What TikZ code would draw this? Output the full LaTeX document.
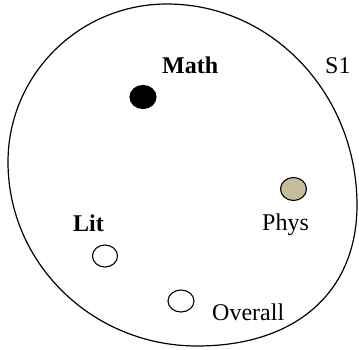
\documentclass[tikz,border=0pt]{standalone}
\usepackage{fontspec}
\setmainfont{Liberation Serif}
\usetikzlibrary{shapes.geometric,positioning}

\tikzset{
  subj/.style={draw, ellipse, line width=1.1pt, inner sep=0pt,
    minimum width=26pt, minimum height=23pt},
  lab/.style={anchor=base west, inner sep=0pt, font=\fontsize{24}{28}\selectfont}
}

\begin{document}
\begin{tikzpicture}[x=1pt, y=-1pt]
  \useasboundingbox (0,0) rectangle (359,349);

  % 外轮廓 S1
  \draw[line width=1.2pt] (167,4) .. controls (272,4) and (357,94) .. (357,205)
    .. controls (357,292) and (296,346) .. (197,346)
    .. controls (93,346) and (8,264) .. (8,162)
    .. controls (8,75) and (79,4) .. cycle;
  \node[lab] (s1) at (325,73) {S1};

  % 科目点
  \node[subj, fill=black] (math) at (143,97) {};
  \node[subj, fill={rgb,255:red,196;green,189;blue,155}] (phys) at (293.5,189) {};
  \node[subj, fill=white, minimum width=25pt, minimum height=22pt] (lit) at (105,256) {};
  \node[subj, fill=white, minimum height=22pt] (overall) at (181,301) {};

  % 标签
  \node[lab, font=\fontsize{24}{28}\selectfont\bfseries] (mathlab) at (162,73) {Math};
  \node[lab] (physlab) at (262,230) {Phys};
  \node[lab, font=\fontsize{24}{28}\selectfont\bfseries] (litlab) at (73,231) {Lit};
  \node[lab] (overalllab) at (212,320) {Overall};
\end{tikzpicture}
\end{document}
